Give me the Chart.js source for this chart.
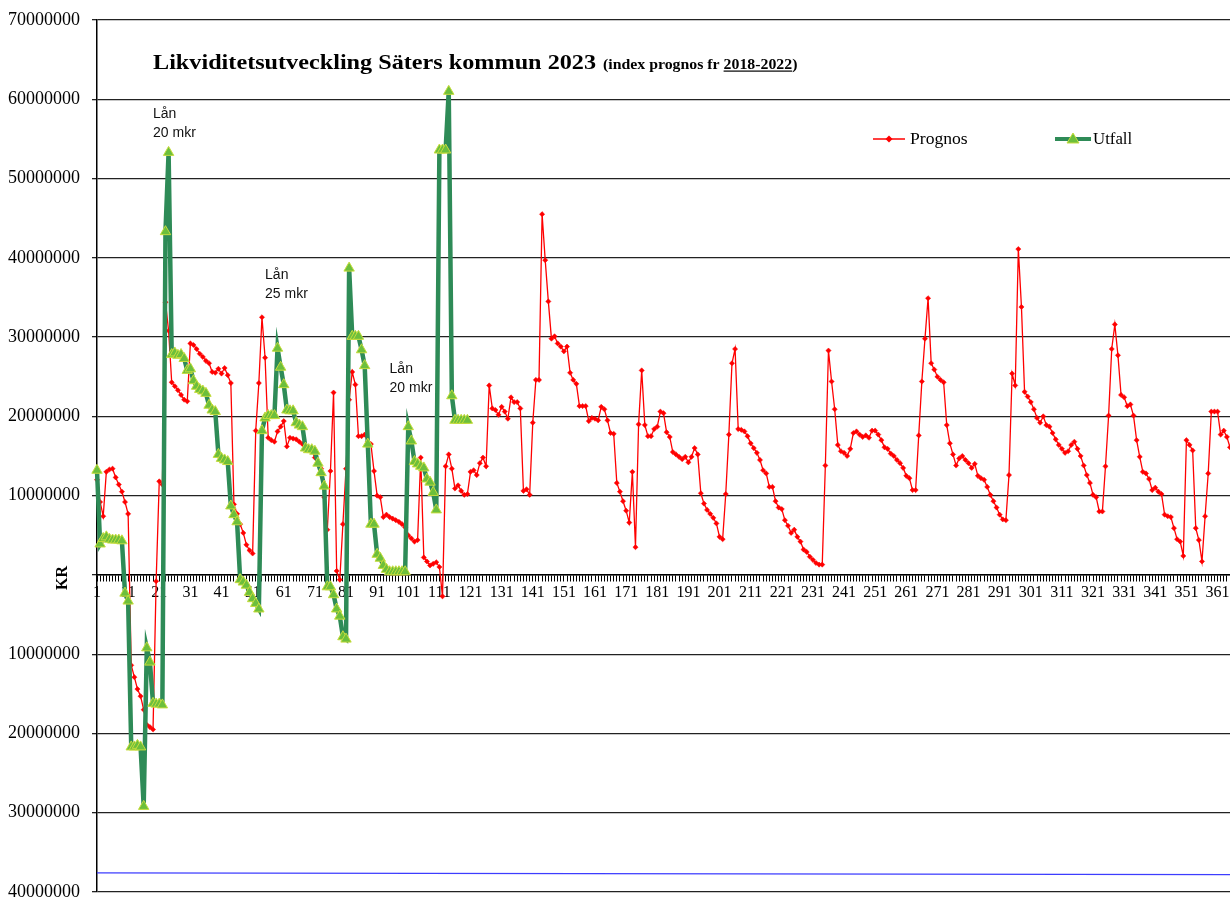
<!DOCTYPE html>
<html>
<head>
<meta charset="utf-8">
<script src="https://cdn.jsdelivr.net/npm/chart.js@4.4.0/dist/chart.umd.min.js"></script>
<style>
html, body { margin: 0; padding: 0; background: #fff; overflow: hidden; }
#wrap { position: relative; width: 1230px; height: 900px; }
</style>
</head>
<body>
<div id="wrap"><canvas id="likviditet"></canvas></div>
<script>
// dagar 1..365
var days = [];
for (var d = 1; d <= 365; d++) days.push(String(d));

// Prognos, mkr per dag
var prognosMkr = [
  12.0, 9.2, 7.4, 13.0, 13.3, 13.4, 12.3, 11.4, 10.5, 9.2,
  7.7, -11.4, -12.9, -14.4, -15.3, -17.0, -18.9, -19.2, -19.5, -0.8,
  11.8, 11.4, 34.4, 30.8, 24.3, 23.8, 23.3, 22.7, 22.1, 21.9,
  29.2, 29.0, 28.5, 27.9, 27.5, 27.0, 26.7, 25.6, 25.5, 26.0,
  25.4, 26.1, 25.2, 24.2, 8.9, 7.7, 6.4, 5.3, 3.8, 3.1,
  2.7, 18.2, 24.2, 32.5, 27.4, 17.3, 17.0, 16.8, 18.1, 18.7,
  19.4, 16.2, 17.3, 17.2, 17.1, 16.8, 16.5, 16.3, 16.0, 15.7,
  14.8, 14.1, 13.4, 9.8, 5.7, 13.1, 23.0, 0.5, -0.6, 6.4,
  13.4, 22.1, 25.6, 24.0, 17.5, 17.5, 17.7, 16.8, 16.5, 13.1,
  10.0, 9.8, 7.3, 7.6, 7.3, 7.1, 6.9, 6.7, 6.4, 6.0,
  5.0, 4.6, 4.2, 4.4, 14.8, 2.2, 1.7, 1.2, 1.4, 1.6,
  1.0, -2.7, 13.7, 15.2, 13.4, 10.9, 11.3, 10.6, 10.1, 10.2,
  13.0, 13.2, 12.6, 14.1, 14.8, 13.7, 23.9, 21.0, 20.8, 20.2,
  21.2, 20.6, 19.7, 22.4, 21.8, 21.8, 21.0, 10.6, 10.8, 10.1,
  19.2, 24.6, 24.6, 45.5, 39.7, 34.5, 29.8, 30.1, 29.2, 28.8,
  28.2, 28.8, 25.5, 24.6, 24.1, 21.3, 21.3, 21.3, 19.4, 19.8,
  19.7, 19.5, 21.2, 20.9, 19.5, 17.9, 17.8, 11.6, 10.5, 9.3,
  8.1, 6.6, 13.0, 3.5, 19.0, 25.8, 18.9, 17.5, 17.5, 18.4,
  18.7, 20.6, 20.4, 18.0, 17.4, 15.5, 15.2, 14.9, 14.6, 14.9,
  14.2, 14.9, 16.0, 15.2, 10.3, 9.0, 8.2, 7.7, 7.2, 6.5,
  4.8, 4.5, 10.2, 17.7, 26.7, 28.5, 18.4, 18.3, 18.1, 17.5,
  16.6, 16.0, 15.4, 14.5, 13.2, 12.8, 11.1, 11.1, 9.3, 8.5,
  8.3, 6.9, 6.2, 5.3, 5.7, 4.8, 4.2, 3.2, 2.9, 2.3,
  1.9, 1.5, 1.3, 1.3, 13.8, 28.3, 24.4, 20.9, 16.4, 15.6,
  15.4, 15.0, 15.9, 17.9, 18.1, 17.7, 17.4, 17.6, 17.3, 18.2,
  18.2, 17.7, 17.0, 16.1, 15.9, 15.3, 15.0, 14.5, 14.1, 13.5,
  12.5, 12.2, 10.7, 10.7, 17.6, 24.4, 29.8, 34.9, 26.7, 25.9,
  25.0, 24.6, 24.3, 18.9, 16.6, 15.2, 13.8, 14.7, 15.0, 14.5,
  14.1, 13.5, 14.0, 12.5, 12.2, 12.0, 11.1, 10.1, 9.3, 8.5,
  7.6, 7.0, 6.9, 12.6, 25.4, 23.9, 41.1, 33.8, 23.1, 22.5,
  21.8, 20.9, 19.8, 19.2, 20.0, 18.9, 18.7, 17.9, 17.1, 16.4,
  15.9, 15.4, 15.6, 16.4, 16.8, 15.9, 15.0, 13.8, 12.6, 11.6,
  10.1, 9.8, 8.0, 8.0, 13.7, 20.1, 28.5, 31.6, 27.7, 22.7,
  22.4, 21.3, 21.5, 20.1, 17.0, 14.9, 13.0, 12.8, 12.1, 10.7,
  11.0, 10.5, 10.2, 7.6, 7.4, 7.3, 5.9, 4.5, 4.2, 2.4,
  17.0, 16.4, 15.7, 5.9, 4.4, 1.7, 7.4, 12.8, 20.6, 20.6,
  20.6, 17.7, 18.2, 17.4, 16.1
];

// Utfall, mkr per dag (t.o.m. dag 120)
var utfallMkr = [
  13.2, 3.9, 4.6, 4.8, 4.5, 4.4, 4.4, 4.4, 4.3, -2.3,
  -3.3, -21.7, -21.7, -21.5, -21.7, -29.2, -9.2, -11.0, -16.2, -16.3,
  -16.3, -16.4, 43.3, 53.3, 27.8, 28.0, 27.7, 27.8, 27.3, 25.8,
  26.0, 24.5, 23.8, 23.4, 23.2, 22.9, 21.4, 20.8, 20.6, 15.2,
  14.7, 14.5, 14.3, 8.7, 7.6, 6.7, -0.6, -0.9, -1.3, -2.2,
  -3.0, -3.6, -4.3, 18.2, 19.8, 20.1, 20.1, 20.1, 28.6, 26.2,
  24.0, 20.8, 20.7, 20.7, 19.2, 18.9, 18.7, 16.0, 15.8, 15.8,
  15.6, 14.1, 12.9, 11.2, -1.5, -1.5, -2.5, -4.3, -5.2, -7.8,
  -8.1, 38.7, 30.1, 30.1, 30.1, 28.4, 26.4, 16.5, 6.4, 6.4,
  2.6, 2.1, 1.2, 0.7, 0.4, 0.4, 0.4, 0.4, 0.4, 0.4,
  18.7, 16.9, 14.3, 14.0, 13.7, 13.5, 12.1, 11.7, 10.4, 8.2,
  53.6, 53.6, 53.6, 61.0, 22.6, 19.5, 19.5, 19.5, 19.5, 19.5
];

// blå gränslinje (start/slut)
var gransDagar = ['1', '365'];
var gransMkr = [-37.6, -37.8];

// y-axel
var yMin = -40000000, yMax = 70000000, yStep = 10000000;

// låneanteckningar: dag, nivå (mkr), text
var lanDag = [19, 55, 95];
var lanNiva = [58.3, 38.0, 26.1];
var lanText = [['Lån', '20 mkr'], ['Lån', '25 mkr'], ['Lån', '20 mkr']];

var serif = '"Liberation Serif", "Times New Roman", serif';

function kr(arr) { return arr.map(function (v) { return v * 1000000; }); }

// text lite utdragen på bredden, som i originalet
function wideText(ctx, txt, x, y, sx) {
  ctx.save();
  ctx.translate(x, y);
  ctx.scale(sx, 1);
  ctx.fillText(txt, 0, 0);
  ctx.restore();
  return ctx.measureText(txt).width * sx;
}

var extras = {
  id: 'extras',
  afterDraw: function (chart) {
    var ctx = chart.ctx, xs = chart.scales.x, ys = chart.scales.y;
    ctx.save();
    ctx.fillStyle = '#000';
    ctx.textBaseline = 'alphabetic';

    // titel
    ctx.font = 'bold 22px ' + serif;
    var x = 153 + wideText(ctx, 'Likviditetsutveckling Säters kommun 2023', 153, 69, 1.1) + 7;
    ctx.font = 'bold 14px ' + serif;
    x += wideText(ctx, '(index prognos fr ', x, 69, 1.13);
    var w = wideText(ctx, '2018-2022', x, 69, 1.13);
    ctx.fillRect(x, 70.5, w, 1.2);
    wideText(ctx, ')', x + w, 69, 1.13);

    // KR
    ctx.save();
    ctx.translate(67, 578);
    ctx.rotate(-Math.PI / 2);
    ctx.font = 'bold 16px ' + serif;
    ctx.textAlign = 'center';
    ctx.fillText('KR', 0, 0);
    ctx.restore();

    // låneanteckningar
    ctx.font = '14px "Liberation Sans", Arial, sans-serif';
    ctx.fillStyle = '#111';
    for (var i = 0; i < lanDag.length; i++) {
      var px = xs.getPixelForValue(lanDag[i] - 1);
      var py = ys.getPixelForValue(lanNiva[i] * 1000000);
      ctx.fillText(lanText[i][0], px, py + 5);
      ctx.fillText(lanText[i][1], px, py + 24);
    }

    // förklaring
    var ly = 139;
    ctx.strokeStyle = '#ff0000';
    ctx.lineWidth = 1.5;
    ctx.beginPath(); ctx.moveTo(873, ly); ctx.lineTo(905, ly); ctx.stroke();
    ctx.fillStyle = '#ff0000';
    ctx.beginPath();
    ctx.moveTo(889, ly - 3.5); ctx.lineTo(892.5, ly); ctx.lineTo(889, ly + 3.5); ctx.lineTo(885.5, ly);
    ctx.closePath(); ctx.fill();
    ctx.fillStyle = '#000';
    ctx.font = '16px ' + serif;
    wideText(ctx, 'Prognos', 910, ly + 5, 1.1);

    ctx.strokeStyle = '#2e8b57';
    ctx.lineWidth = 4;
    ctx.beginPath(); ctx.moveTo(1055, ly); ctx.lineTo(1091, ly); ctx.stroke();
    ctx.fillStyle = '#6cbf3c';
    ctx.strokeStyle = '#c6dc3c';
    ctx.lineWidth = 1;
    ctx.beginPath();
    ctx.moveTo(1073, ly - 6); ctx.lineTo(1079, ly + 4); ctx.lineTo(1067, ly + 4);
    ctx.closePath(); ctx.fill(); ctx.stroke();
    ctx.fillStyle = '#000';
    ctx.font = '16px ' + serif;
    wideText(ctx, 'Utfall', 1093, ly + 5, 1.05);
    ctx.restore();
  }
};

var ctx = document.getElementById('likviditet').getContext('2d');
var chart = new Chart(ctx, {
  type: 'line',
  data: {
    labels: days,
    datasets: [
      {
        label: 'Utfall',
        data: kr(utfallMkr),
        order: 1,
        clip: false,
        borderColor: '#2e8b57',
        borderWidth: 4.5,
        pointStyle: 'triangle',
        pointRadius: 6,
        pointBackgroundColor: '#6cbf3c',
        pointBorderColor: '#c6dc3c',
        pointBorderWidth: 1,
        tension: 0
      },
      {
        label: 'Prognos',
        data: kr(prognosMkr),
        order: 2,
        clip: false,
        borderColor: '#ff0000',
        borderWidth: 1.3,
        pointStyle: 'rectRot',
        pointRadius: 2.6,
        pointBackgroundColor: '#ff0000',
        pointBorderColor: '#ff0000',
        pointBorderWidth: 0.5,
        tension: 0
      },
      {
        label: 'Gräns',
        data: gransDagar.map(function (g, i) { return { x: g, y: gransMkr[i] * 1000000 }; }),
        order: 3,
        borderColor: '#3d3dff',
        borderWidth: 1.2,
        pointRadius: 0,
        tension: 0
      }
    ]
  },
  options: {
    responsive: true,
    maintainAspectRatio: false,
    animation: false,
    devicePixelRatio: 1,
    layout: { autoPadding: false, padding: { top: 20, right: 0, bottom: 8, left: 0 } },
    plugins: {
      legend: { display: false },
      title: { display: false },
      tooltip: { enabled: false }
    },
    scales: {
      x: {
        type: 'category',
        position: { y: 0 },
        offset: false,
        ticks: {
          autoSkip: false,
          maxRotation: 0,
          minRotation: 0,
          color: '#000',
          padding: 2,
          font: { family: serif, size: 16 },
          callback: function (v, i) { return i % 10 === 0 ? this.getLabelForValue(v) : ''; }
        },
        grid: { drawOnChartArea: false, drawTicks: true, tickLength: 6, color: '#000', lineWidth: 1 },
        border: { color: '#000', width: 1.5 },
        afterFit: function (s) { s.height = 0; s.paddingLeft = 0; s.paddingRight = 0; }
      },
      y: {
        min: yMin,
        max: yMax,
        ticks: {
          stepSize: yStep,
          color: '#000',
          padding: 12,
          font: { family: serif, size: 18 },
          callback: function (v) { return v === 0 ? '' : String(Math.abs(v)); }
        },
        grid: { color: '#222', lineWidth: 1.3, tickLength: 5 },
        border: { color: '#000', width: 1.5 },
        afterFit: function (s) { s.width = 97; s.paddingTop = 0; s.paddingBottom = 0; }
      }
    }
  },
  plugins: [extras]
});
</script>
</body>
</html>
